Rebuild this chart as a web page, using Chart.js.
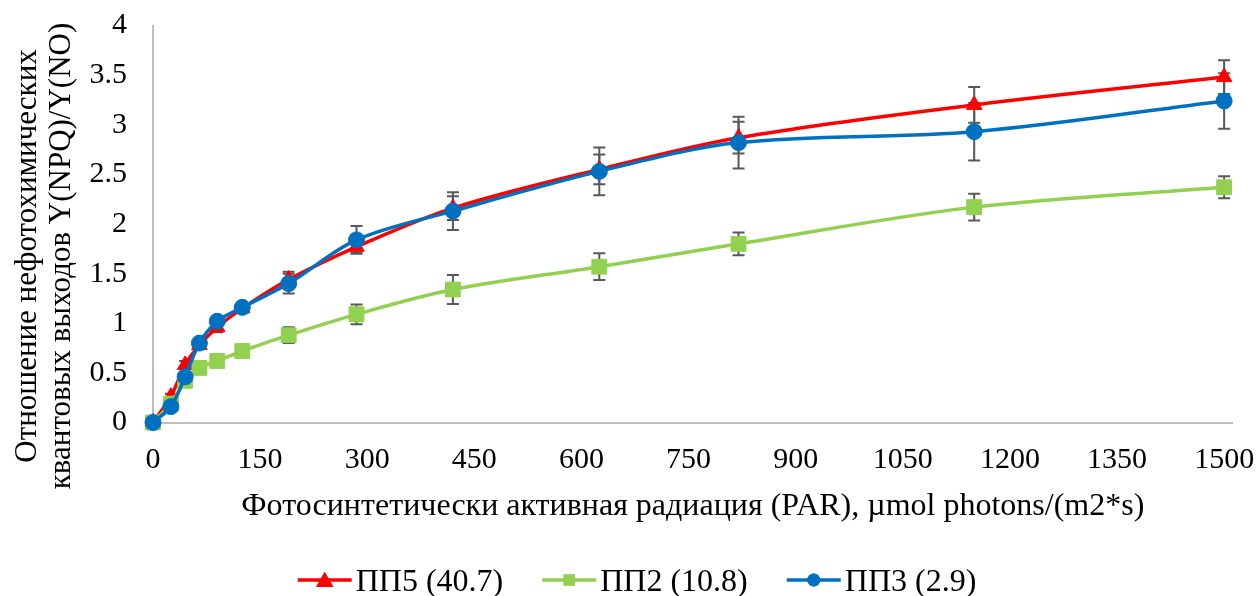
<!DOCTYPE html>
<html>
<head>
<meta charset="utf-8">
<script src="https://cdn.jsdelivr.net/npm/chart.js@4.4.1/dist/chart.umd.min.js"></script>
<style>
html,body{margin:0;padding:0;background:#ffffff;}
#wrap{width:1260px;height:596px;position:relative;}
</style>
</head>
<body>
<div id="wrap"><canvas id="c" width="1260" height="596"></canvas></div>
<script>
// ---- data ----
const parValues = [0, 25, 45, 65, 90, 125, 190, 285, 420, 625, 820, 1150, 1500];
const seriesNames = ['ПП5 (40.7)', 'ПП2 (10.8)', 'ПП3 (2.9)'];
const pp5Values = [0, 0.26, 0.58, 0.78, 0.96, 1.15, 1.44, 1.77, 2.16, 2.55, 2.87, 3.20, 3.48];
const pp5Errors = [0, 0.03, 0.04, 0.04, 0.05, 0.04, 0.08, 0.06, 0.12, 0.15, 0.16, 0.18, 0.17];
const pp2Values = [0, 0.19, 0.42, 0.55, 0.62, 0.72, 0.88, 1.09, 1.34, 1.57, 1.80, 2.17, 2.37];
const pp2Errors = [0, 0.02, 0.03, 0.03, 0.03, 0.04, 0.08, 0.10, 0.145, 0.135, 0.115, 0.135, 0.11];
const pp3Values = [0, 0.16, 0.46, 0.80, 1.02, 1.16, 1.40, 1.84, 2.13, 2.53, 2.82, 2.93, 3.24];
const pp3Errors = [0, 0.02, 0.03, 0.03, 0.03, 0.03, 0.10, 0.14, 0.19, 0.24, 0.26, 0.29, 0.28];
const xTickValues = [0, 150, 300, 450, 600, 750, 900, 1050, 1200, 1350, 1500];
const yTickValues = [0, 0.5, 1, 1.5, 2, 2.5, 3, 3.5, 4];
const xAxisTitle = 'Фотосинтетически активная радиация (PAR), µmol photons/(m2*s)';
const yAxisTitle = ['Отношение нефотохимических', 'квантовых выходов Y(NPQ)/Y(NO)'];

// ---- styles ----
const FONT = 'Liberation Serif';
const colors = ['#FF0000', '#92D050', '#0070C0'];
const markerStyles = ['triangle', 'rect', 'circle'];
const markerRadii = [9, 10.5, 8];
const errorSets = [pp5Errors, pp2Errors, pp3Errors];
const valueSets = [pp5Values, pp2Values, pp3Values];

function toPoints(vals) { return parValues.map((x, i) => ({ x: x, y: vals[i] })); }

const errorBarPlugin = {
  id: 'errorBars',
  beforeDatasetsDraw(chart) {
    const { ctx } = chart;
    const xs = chart.scales.x, ys = chart.scales.y;
    ctx.save();
    ctx.strokeStyle = '#595959';
    ctx.lineWidth = 2;
    chart.data.datasets.forEach((ds, i) => {
      const errs = errorSets[i];
      ds.data.forEach((p, j) => {
        const e = errs[j];
        if (!e) return;
        const px = xs.getPixelForValue(p.x);
        const top = ys.getPixelForValue(p.y + e);
        const bot = ys.getPixelForValue(p.y - e);
        ctx.beginPath();
        ctx.moveTo(px, top); ctx.lineTo(px, bot);
        ctx.moveTo(px - 6, top); ctx.lineTo(px + 6, top);
        ctx.moveTo(px - 6, bot); ctx.lineTo(px + 6, bot);
        ctx.stroke();
      });
    });
    ctx.restore();
  }
};

const yTitlePlugin = {
  id: 'yTitle',
  afterDraw(chart) {
    const { ctx } = chart;
    ctx.save();
    ctx.font = '31px "' + FONT + '"';
    ctx.fillStyle = '#000000';
    ctx.textAlign = 'center';
    ctx.textBaseline = 'middle';
    const centersX = [28, 62];
    yAxisTitle.forEach((line, i) => {
      ctx.save();
      ctx.translate(centersX[i], 256);
      ctx.rotate(-Math.PI / 2);
      ctx.fillText(line, 0, 0);
      ctx.restore();
    });
    ctx.restore();
  }
};

const legendPlugin = {
  id: 'lineLegend',
  afterDraw(chart) {
    const { ctx } = chart;
    const lineLen = 54, gapText = 4, gapItem = 39;
    const fontSize = 32;
    const cy = 580;
    ctx.save();
    ctx.font = fontSize + 'px "' + FONT + '"';
    const widths = seriesNames.map(n => ctx.measureText(n).width);
    let total = 0;
    widths.forEach((w, i) => { total += lineLen + gapText + w + (i < widths.length - 1 ? gapItem : 0); });
    let x = 637 - total / 2;
    seriesNames.forEach((name, i) => {
      ctx.strokeStyle = colors[i];
      ctx.lineWidth = 3.5;
      ctx.beginPath();
      ctx.moveTo(x, cy); ctx.lineTo(x + lineLen, cy);
      ctx.stroke();
      ctx.fillStyle = colors[i];
      ctx.beginPath();
      Chart.helpers.drawPoint(ctx, { pointStyle: markerStyles[i], radius: i === 0 ? 10 : (i === 1 ? 8 : 6.5), rotation: 0, borderWidth: 0 }, x + lineLen / 2, cy + (i === 0 ? 2 : 0));
      ctx.fill();
      ctx.fillStyle = '#000000';
      ctx.textBaseline = 'alphabetic';
      ctx.textAlign = 'left';
      ctx.fillText(name, x + lineLen + gapText, 591);
      x += lineLen + gapText + widths[i] + gapItem;
    });
    ctx.restore();
  }
};

const datasets = seriesNames.map((name, i) => ({
  label: name,
  data: toPoints(valueSets[i]),
  borderColor: colors[i],
  backgroundColor: colors[i],
  pointBackgroundColor: colors[i],
  pointBorderColor: colors[i],
  pointStyle: markerStyles[i],
  pointRadius: markerRadii[i],
  pointHoverRadius: markerRadii[i],
  pointBorderWidth: 1,
  borderWidth: 3.5,
  tension: 0.33,
  fill: false,
  clip: false,
  order: 2 - i
}));

const tickFont = { family: FONT, size: 30, lineHeight: 1.2 };

function zeroPad(s) { s.paddingLeft = 0; s.paddingRight = 0; s.paddingTop = 0; s.paddingBottom = 0; }

new Chart(document.getElementById('c').getContext('2d'), {
  type: 'line',
  data: { datasets: datasets },
  options: {
    responsive: false,
    animation: false,
    devicePixelRatio: 1,
    layout: { autoPadding: false, padding: { left: 0, top: 25.5, right: 27.3, bottom: 71.5 } },
    plugins: {
      legend: { display: false },
      tooltip: { enabled: false }
    },
    scales: {
      x: {
        type: 'linear',
        min: 0,
        max: 1512,
        afterBuildTicks: s => { s.ticks = xTickValues.map(v => ({ value: v })); },
        afterFit: s => { s.height = 102; zeroPad(s); },
        grid: { display: false, drawTicks: false },
        border: { display: true, color: '#BFBFBF', width: 2 },
        ticks: { font: tickFont, color: '#000000', padding: 20, maxRotation: 0, autoSkip: false, callback: v => String(v) },
        title: { display: true, text: xAxisTitle, color: '#000000', font: { family: FONT, size: 32, lineHeight: 1.15 }, padding: { top: 0, bottom: 0 } }
      },
      y: {
        type: 'linear',
        min: 0,
        max: 4,
        afterBuildTicks: s => { s.ticks = yTickValues.map(v => ({ value: v })); },
        afterFit: s => { s.width = 153; zeroPad(s); },
        grid: { display: false, drawTicks: false },
        border: { display: true, color: '#BFBFBF', width: 2 },
        ticks: { font: tickFont, color: '#000000', padding: 26, autoSkip: false, callback: v => String(v) },
        title: { display: false }
      }
    }
  },
  plugins: [errorBarPlugin, yTitlePlugin, legendPlugin]
});
</script>
</body>
</html>
